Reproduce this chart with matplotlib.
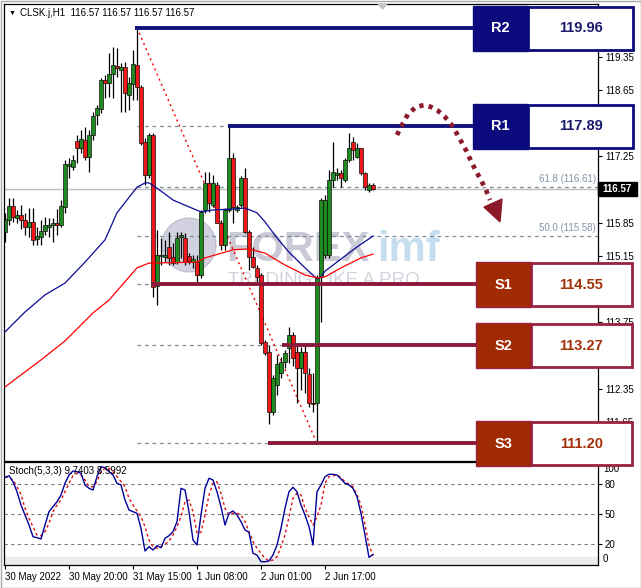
import matplotlib
matplotlib.use('Agg')
import matplotlib.pyplot as plt
from matplotlib.patches import Rectangle, Polygon, Ellipse
import matplotlib.transforms as mtransforms

plt.rcParams['font.family'] = ['Liberation Sans', 'DejaVu Sans']

# ---------------- data ----------------
symbol_title = 'CLSK.j,H1  116.57 116.57 116.57 116.57'
opens = [115.66,115.91,116.20,115.95,116.01,115.91,115.76,115.87,115.51,115.55,
         115.68,115.76,115.80,115.85,115.80,116.18,117.05,117.03,117.57,117.43,
         117.60,117.24,117.70,118.12,118.25,118.86,118.80,118.99,119.15,119.07,
         119.13,118.54,118.77,119.18,118.71,117.55,116.86,117.70,114.52,115.15,
         115.13,115.34,115.13,115.02,115.55,115.53,115.15,115.02,115.02,114.75,
         116.12,116.69,116.22,116.65,115.85,115.38,116.12,117.22,116.12,116.22,
         116.79,115.66,115.13,114.90,114.75,113.34,113.13,111.86,112.43,112.68,
         112.92,113.21,113.49,113.13,112.79,113.13,112.66,112.05,112.05,114.71,
         115.17,115.17,116.75,116.86,116.90,116.75,117.17,117.55,117.24,117.43,
         116.90,116.54,116.65]
highs = [116.06,116.37,116.37,116.12,116.22,116.06,116.16,116.16,115.76,115.91,
         115.97,115.95,115.95,116.14,116.33,117.17,117.22,117.28,117.70,117.80,
         117.87,117.80,118.18,118.33,118.90,118.96,119.43,119.55,119.53,119.22,
         119.24,118.92,119.49,119.96,118.75,117.64,117.74,117.74,115.70,115.53,
         115.49,115.66,115.42,115.66,115.66,115.63,115.21,115.17,115.17,116.12,
         116.92,116.92,116.86,116.71,115.91,116.16,117.89,117.32,116.22,116.84,
         117.00,115.70,115.34,114.96,114.79,113.38,113.27,112.64,113.06,113.02,
         113.17,113.66,113.55,113.27,113.23,113.27,112.79,112.68,114.75,116.37,
         116.43,116.96,117.55,117.00,116.96,117.22,117.74,117.66,117.53,117.43,
         116.92,116.69,116.69]
lows = [115.45,115.80,115.87,115.85,115.72,115.59,115.55,115.38,115.38,115.38,
        115.59,115.55,115.45,115.59,115.76,116.06,116.79,116.96,117.11,117.32,
        117.17,116.92,117.60,117.91,118.16,118.48,118.50,118.48,118.92,118.18,
        118.18,118.23,118.44,118.44,117.49,116.65,116.79,114.29,114.12,114.96,
        115.02,114.96,114.96,114.98,115.11,114.96,114.98,114.90,114.58,114.69,
        116.06,116.08,116.18,115.85,115.28,115.28,116.08,115.85,116.08,116.18,
        115.63,114.85,114.90,114.60,113.27,113.06,111.61,111.80,112.22,112.58,
        112.79,112.89,112.83,112.05,112.33,112.26,111.97,111.86,111.20,113.76,
        115.11,115.11,116.61,116.75,116.61,116.71,117.13,117.17,117.22,116.86,
        116.54,116.50,116.54]
closes = [115.93,116.20,115.97,116.01,115.91,115.76,115.87,115.49,115.57,115.68,
          115.80,115.80,115.85,115.80,116.20,117.09,117.09,117.17,117.43,117.62,
          117.24,117.70,118.10,118.27,118.86,118.80,118.99,119.18,119.11,119.13,
          118.59,118.80,119.20,118.71,117.53,116.86,117.70,114.50,115.17,115.17,
          115.17,115.11,115.00,115.53,115.59,115.02,115.05,115.09,114.75,116.08,
          116.69,116.27,116.69,115.85,115.38,116.12,117.22,116.18,116.18,116.79,
          115.66,115.13,114.92,114.71,113.32,113.11,111.86,112.58,112.87,112.92,
          113.11,113.49,113.00,112.79,113.13,112.68,112.05,112.03,114.71,116.33,
          116.33,116.75,116.92,116.90,116.79,117.17,117.43,117.38,117.43,116.90,
          116.61,116.65,116.57]

ma_blue_idx = [0,5,10,15,20,25,28,33,35,36,38,42,45,49,52,57,60,63,65,68,71,75,78,79,80,85,88,92]
ma_blue_val = [113.55,113.97,114.33,114.58,115.02,115.49,116.06,116.60,116.69,116.69,116.58,116.33,
               116.22,116.08,116.12,116.14,116.16,116.06,115.87,115.53,115.23,114.90,114.67,114.71,
               114.83,115.15,115.34,115.57]
ma_red_idx = [0,9,15,22,26,33,36,48,50,57,61,65,70,75,78,80,84,89,92]
ma_red_val = [112.39,112.96,113.36,113.95,114.22,114.90,115.00,115.02,115.11,115.28,115.30,115.21,
              114.96,114.75,114.69,114.71,114.90,115.11,115.19]

stoch_k = [86.6,88.6,82.6,72.6,59.3,49.3,39.3,27.6,26.6,25.3,
           39.3,52.6,57.6,62.6,69.3,81.0,89.3,93.3,92.6,91.0,
           79.3,76.0,74.3,87.6,97.6,96.6,92.6,89.3,81.0,79.3,
           64.3,54.3,52.6,51.0,36.0,13.3,17.6,14.3,18.6,16.6,
           26.0,28.6,32.6,42.6,76.0,74.3,52.6,24.3,19.3,49.3,
           76.0,86.0,84.3,72.6,57.6,39.3,51.0,53.3,49.3,42.6,
           34.3,32.0,11.0,9.3,2.6,2.6,3.3,9.3,19.3,36.0,
           56.0,72.6,77.0,72.6,59.3,49.3,37.6,19.3,72.6,79.3,
           87.6,90.0,90.0,89.3,85.3,81.0,79.3,76.0,67.6,51.0,
           29.3,7.0,9.74]
stoch_d = [87.6,86.6,84.3,77.6,70.0,56.0,46.0,37.6,29.3,28.6,
           32.6,41.0,52.6,59.3,64.3,72.6,81.0,88.6,91.0,89.3,
           84.3,77.6,77.6,82.6,92.6,96.0,96.0,92.6,87.6,82.6,
           77.6,66.0,59.3,53.3,47.6,37.6,24.3,17.6,16.0,17.6,
           20.0,23.3,29.3,37.6,47.6,62.6,64.3,52.6,31.0,32.0,
           49.3,69.3,81.0,82.6,71.0,56.0,49.3,51.0,51.0,49.3,
           42.6,32.6,22.6,16.0,11.0,5.9,3.3,4.3,7.6,17.6,
           29.3,47.6,66.0,71.0,69.3,56.0,47.6,39.3,47.6,59.3,
           81.0,87.6,88.6,89.3,86.6,82.6,80.0,77.6,69.3,59.3,
           39.3,19.3,8.60]
stoch_title = 'Stoch(5,3,3) 9.7403 8.5992'
stoch_levels = [20, 50, 80]

time_tick_idx = [0, 16, 32, 48, 64, 80]
time_tick_labels = ['30 May 2022', '30 May 20:00', '31 May 15:00', '1 Jun 08:00', '2 Jun 01:00', '2 Jun 17:00']
price_ticks = [111.65,112.35,113.05,113.75,114.45,115.15,115.85,116.55,117.25,117.95,118.65,119.35]
price_ticks_hidden = [113.05, 114.45, 116.55, 117.95]   # covered by level boxes / price tag

fib_start_idx = 33
fib_pcts = ['0.0', '23.6', '38.2', '50.0', '61.8', '76.4', '100.0']
fib_prices = [111.20, 113.27, 114.55, 115.58, 116.61, 117.89, 119.96]
fib_labelled = ['50.0', '61.8']   # the others sit under the level boxes
trend_idx = [33, 78]
trend_price = [119.96, 111.20]

level_names = ['R2', 'R1', 'S1', 'S2', 'S3']
level_values = [119.96, 117.89, 114.55, 113.27, 111.20]
level_start_idx = [32.6, 55.8, 36.8, 69.2, 65.8]
current_price = 116.57

arrow_x = [98,99,100.75,102.75,104.75,106.5,108.25,110,111.5,112.75,114,115.25,116.5,117.75,119,120.25,121.25]
arrow_y = [117.70,117.87,118.14,118.29,118.33,118.29,118.21,118.08,117.93,117.76,117.57,117.38,117.15,116.94,116.75,116.54,116.33]
arrow_head = [(119.75,116.18),(124.25,116.35),(123.75,115.87)]

# ---------------- figure ----------------
W, H = 641, 588
fig = plt.figure(figsize=(W/100, H/100), dpi=100)
fig.patch.set_facecolor('white')

def fx(px):
    return px / W

def fy(py):
    return 1 - py / H

ax = fig.add_axes([fx(4), fy(461), (598 - 4) / W, (461 - 4) / H])
ax2 = fig.add_axes([fx(4), fy(565), (598 - 4) / W, (565 - 462) / H])

n = len(closes)
idx = list(range(n))
ax.set_xlim(-0.25, 148.25)
ax2.set_xlim(-0.25, 148.25)
ax.set_ylim(110.83, 120.46)
ax2.set_ylim(-0.7, 102.3)

for a in (ax, ax2):
    for s in a.spines.values():
        s.set_color('black')
        s.set_linewidth(0.9)

# watermark (behind candles)
ax.add_patch(Ellipse((fx(189), fy(245)), 54 / W, 54 / H, transform=fig.transFigure,
                     color='#9a9ab8', alpha=0.45, zorder=0.5))
ax.text(fx(226), fy(250), 'FOREX', transform=fig.transFigure, fontsize=30, weight='bold',
        color='#8a8aa6', alpha=0.45, ha='left', va='center', zorder=0.6)
ax.text(fx(377), fy(250), 'imf', transform=fig.transFigure, fontsize=30, weight='bold',
        color='#7db6de', alpha=0.45, ha='left', va='center', zorder=0.6)
ax.text(fx(228), fy(281), 'TRADING LIKE A PRO', transform=fig.transFigure, fontsize=13.5,
        color='#a0a0b6', alpha=0.45, ha='left', va='center', zorder=0.6)

# current price line
ax.axhline(current_price, color='#c0c0c0', lw=1, zorder=1)

# fibonacci levels
bt = mtransforms.blended_transform_factory(ax.transAxes, ax.transData)
for p, v in zip(fib_pcts, fib_prices):
    ax.hlines(v, fib_start_idx, 148.25, colors='#7d8a99', lw=0.9, linestyles=(0, (3, 3)), zorder=1.2)
    if p in fib_labelled:
        ax.text((596 - 4) / 594, v + 0.06, f'{p} ({v:.2f})', transform=bt, ha='right', va='bottom',
                fontsize=7, color='#8494a8', zorder=1.2)

# trend line
ax.plot(trend_idx, trend_price, color='#ff0000', lw=1, ls=(0, (1.5, 2.5)), zorder=1.3)

# moving averages
ax.plot(ma_blue_idx, ma_blue_val, color='#0a0a96', lw=0.9, zorder=3)
ax.plot(ma_red_idx, ma_red_val, color='#ff0000', lw=0.9, zorder=3)

# candles
ax.vlines(idx, lows, highs, color='black', lw=0.9, zorder=2)
body_bottom = [min(o, c) for o, c in zip(opens, closes)]
body_h = [max(abs(c - o), 0.02) for o, c in zip(opens, closes)]
body_col = ['#1f8a1f' if c >= o else '#f01818' for o, c in zip(opens, closes)]
ax.bar(idx, body_h, bottom=body_bottom, width=0.78, color=body_col, edgecolor='black',
       linewidth=0.45, zorder=2.2)

# support/resistance lines
for name, v, s in zip(level_names, level_values, level_start_idx):
    col = '#12127c' if name.startswith('R') else '#8b1a3a'
    ax.hlines(v, s, 119, colors=col, lw=2.8, zorder=4)

ax.set_xticks([])
ax.yaxis.tick_right()
ax.set_yticks(price_ticks)
ax.set_yticklabels(['' if t in price_ticks_hidden else f'{t:.2f}' for t in price_ticks])
ax.tick_params(axis='y', direction='out', length=3, width=0.8, labelsize=7, pad=2)

# ---------------- stochastic ----------------
ax2.axhspan(-0.7, 7.6, color='#ececec', zorder=0)
for lv in stoch_levels:
    ax2.axhline(lv, color='#7a7a7a', lw=0.8, ls=(0, (3, 3)), zorder=1)
ax2.plot(idx, stoch_d, color='#dd1010', lw=1, ls=(0, (2, 2)), zorder=2)
ax2.plot(idx, stoch_k, color='#00009a', lw=1, zorder=3)
ax2.yaxis.tick_right()
ax2.set_yticks(stoch_levels)
ax2.set_yticklabels([str(v) for v in stoch_levels])
ax2.tick_params(axis='y', direction='out', length=3, width=0.8, labelsize=7, pad=2)
bt2 = mtransforms.blended_transform_factory(ax2.transAxes, ax2.transData)
ax2.text(1 + 5 / 594, 100, '100', transform=bt2, fontsize=7, ha='left', va='top', clip_on=False)
ax2.text(1 + 5 / 594, 0, '0', transform=bt2, fontsize=7, ha='left', va='bottom', clip_on=False)
ax2.set_xticks(time_tick_idx)
ax2.set_xticklabels(time_tick_labels, ha='left')
ax2.tick_params(axis='x', direction='out', length=3, width=0.8, labelsize=7, pad=2)
ax2.text(5 / 594, 0.915, stoch_title, transform=ax2.transAxes, fontsize=7, va='center', ha='left')

# ---------------- figure-level overlays ----------------
fig.canvas.draw()

def price_to_py(v):
    return H - ax.transData.transform((0, v))[1]

for name, v in zip(level_names, level_values):
    yc = price_to_py(v) + 0.5
    y0 = yc + 22.5
    if name.startswith('R'):
        fillc, edgec, txtc = '#0b0b7e', '#0b0b7e', '#1a1a6e'
        xa, xb, xc = 473, 528, 633
    else:
        fillc, edgec, txtc = '#a02a02', '#9a2040', '#a23008'
        xa, xb, xc = 476, 531, 632
    fig.add_artist(Rectangle((fx(xa), fy(y0)), (xb - xa) / W, 45 / H, transform=fig.transFigure,
                             facecolor=fillc, edgecolor=edgec, lw=1, zorder=5))
    fig.add_artist(Rectangle((fx(xb), fy(y0 - 1)), (xc - xb) / W, 43 / H, transform=fig.transFigure,
                             facecolor='white', edgecolor=edgec, lw=2, zorder=5))
    fig.text(fx((xa + xb) / 2), fy(yc), name, color='white', fontsize=10.5, weight='bold',
             ha='center', va='center', zorder=6)
    fig.text(fx((xb + xc) / 2), fy(yc), f'{v:.2f}', color=txtc, fontsize=10.5, weight='bold',
             ha='center', va='center', zorder=6)

# current price tag
yp = price_to_py(current_price)
fig.add_artist(Rectangle((fx(598), fy(yp + 7)), 39 / W, 14 / H, transform=fig.transFigure,
                         facecolor='black', edgecolor='black', zorder=5))
fig.text(fx(602), fy(yp), f'{current_price:.2f}', color='white', fontsize=7, weight='bold',
         ha='left', va='center', zorder=6)

# curved dotted arrow
ax.plot(arrow_x, arrow_y, color='#8b1a2b', lw=3.4, ls=(0, (0.9, 1.1)), zorder=6, clip_on=False)
ax.add_patch(Polygon(arrow_head, closed=True, color='#8b1a2b', zorder=6))

# header text and markers
fig.text(fx(9), fy(13), '\u25bc', fontsize=5, va='center', ha='left')
fig.text(fx(20), fy(13), symbol_title, fontsize=7, va='center', ha='left')
fig.add_artist(Polygon([(fx(378), fy(4)), (fx(387), fy(4)), (fx(382.5), fy(9))], closed=True,
                       transform=fig.transFigure, color='#c4c4c4', zorder=5))
fig.add_artist(Rectangle((0.5 / W, 0.5 / H), (W - 1) / W, (H - 1) / H, transform=fig.transFigure,
                         fill=False, edgecolor='#a8a8a8', lw=1, zorder=7))

fig.savefig('out.png', dpi=100)
